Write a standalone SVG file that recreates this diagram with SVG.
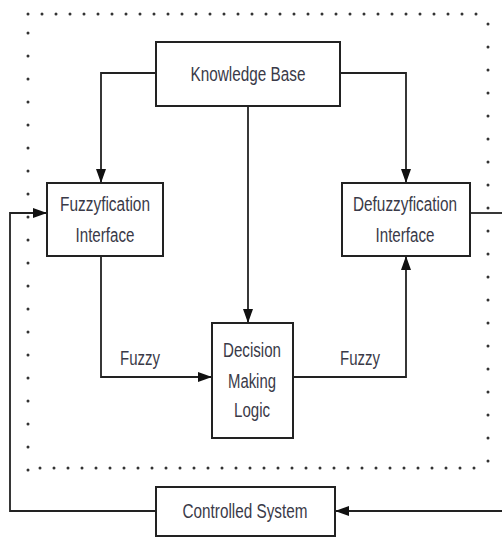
<svg xmlns="http://www.w3.org/2000/svg" width="502" height="538" viewBox="0 0 502 538">
<style>
.box{fill:#fff;stroke:#222;stroke-width:2}
.t{font-family:"Liberation Sans",Arial,sans-serif;font-size:20px;fill:#3a3a48;text-anchor:middle}
.c{fill:none;stroke:#222;stroke-width:1.8}
.dot{fill:none;stroke:#333;stroke-width:3;stroke-linecap:round}
</style>
<defs>
<marker id="a" viewBox="0 0 14 10" refX="14" refY="5" markerWidth="14" markerHeight="10" markerUnits="userSpaceOnUse" orient="auto">
<path d="M0,0 L14,5 L0,10 Z" fill="#111"/>
</marker>
</defs>
<g id="border">
<line class="dot" x1="28" y1="14" x2="482" y2="14" stroke-dasharray="0 14"/>
<line class="dot" x1="28" y1="33" x2="28" y2="472" stroke-dasharray="0 23"/>
<line class="dot" x1="488" y1="24" x2="488" y2="470" stroke-dasharray="0 23"/>
<line class="dot" x1="40" y1="468" x2="482" y2="468" stroke-dasharray="0 14"/>
</g>
<g id="connectors">
<path class="c" d="M156,73 H101 V183" marker-end="url(#a)"/>
<path class="c" d="M340,73 H406 V183" marker-end="url(#a)"/>
<path class="c" d="M248,106 V323" marker-end="url(#a)"/>
<path class="c" d="M101,256 V377 H212" marker-end="url(#a)"/>
<path class="c" d="M293,377 H406 V256" marker-end="url(#a)"/>
<path class="c" d="M470,213 H502"/>
<path class="c" d="M502,511 H335" marker-end="url(#a)"/>
<path class="c" d="M156,511 H10 V213 H47" marker-end="url(#a)"/>
<text class="t" x="140" y="365" textLength="40" lengthAdjust="spacingAndGlyphs">Fuzzy</text>
<text class="t" x="360" y="365" textLength="40" lengthAdjust="spacingAndGlyphs">Fuzzy</text>
</g>
<g id="kb">
<rect class="box" x="156" y="42" width="184" height="64"/>
<text class="t" x="248" y="81" textLength="115" lengthAdjust="spacingAndGlyphs">Knowledge Base</text>
</g>
<g id="fuzz">
<rect class="box" x="47" y="183" width="116" height="73"/>
<text class="t" x="105" y="211" textLength="90" lengthAdjust="spacingAndGlyphs">Fuzzyfication</text>
<text class="t" x="105" y="242" textLength="59" lengthAdjust="spacingAndGlyphs">Interface</text>
</g>
<g id="defuzz">
<rect class="box" x="342" y="183" width="128" height="73"/>
<text class="t" x="405" y="211" textLength="104" lengthAdjust="spacingAndGlyphs">Defuzzyfication</text>
<text class="t" x="405" y="242" textLength="59" lengthAdjust="spacingAndGlyphs">Interface</text>
</g>
<g id="decision">
<rect class="box" x="212" y="323" width="81" height="115"/>
<text class="t" x="252" y="357" textLength="58" lengthAdjust="spacingAndGlyphs">Decision</text>
<text class="t" x="252" y="388" textLength="48" lengthAdjust="spacingAndGlyphs">Making</text>
<text class="t" x="252" y="417" textLength="36" lengthAdjust="spacingAndGlyphs">Logic</text>
</g>
<g id="controlled">
<rect class="box" x="156" y="487" width="179" height="49"/>
<text class="t" x="245" y="518" textLength="125" lengthAdjust="spacingAndGlyphs">Controlled System</text>
</g>
</svg>
